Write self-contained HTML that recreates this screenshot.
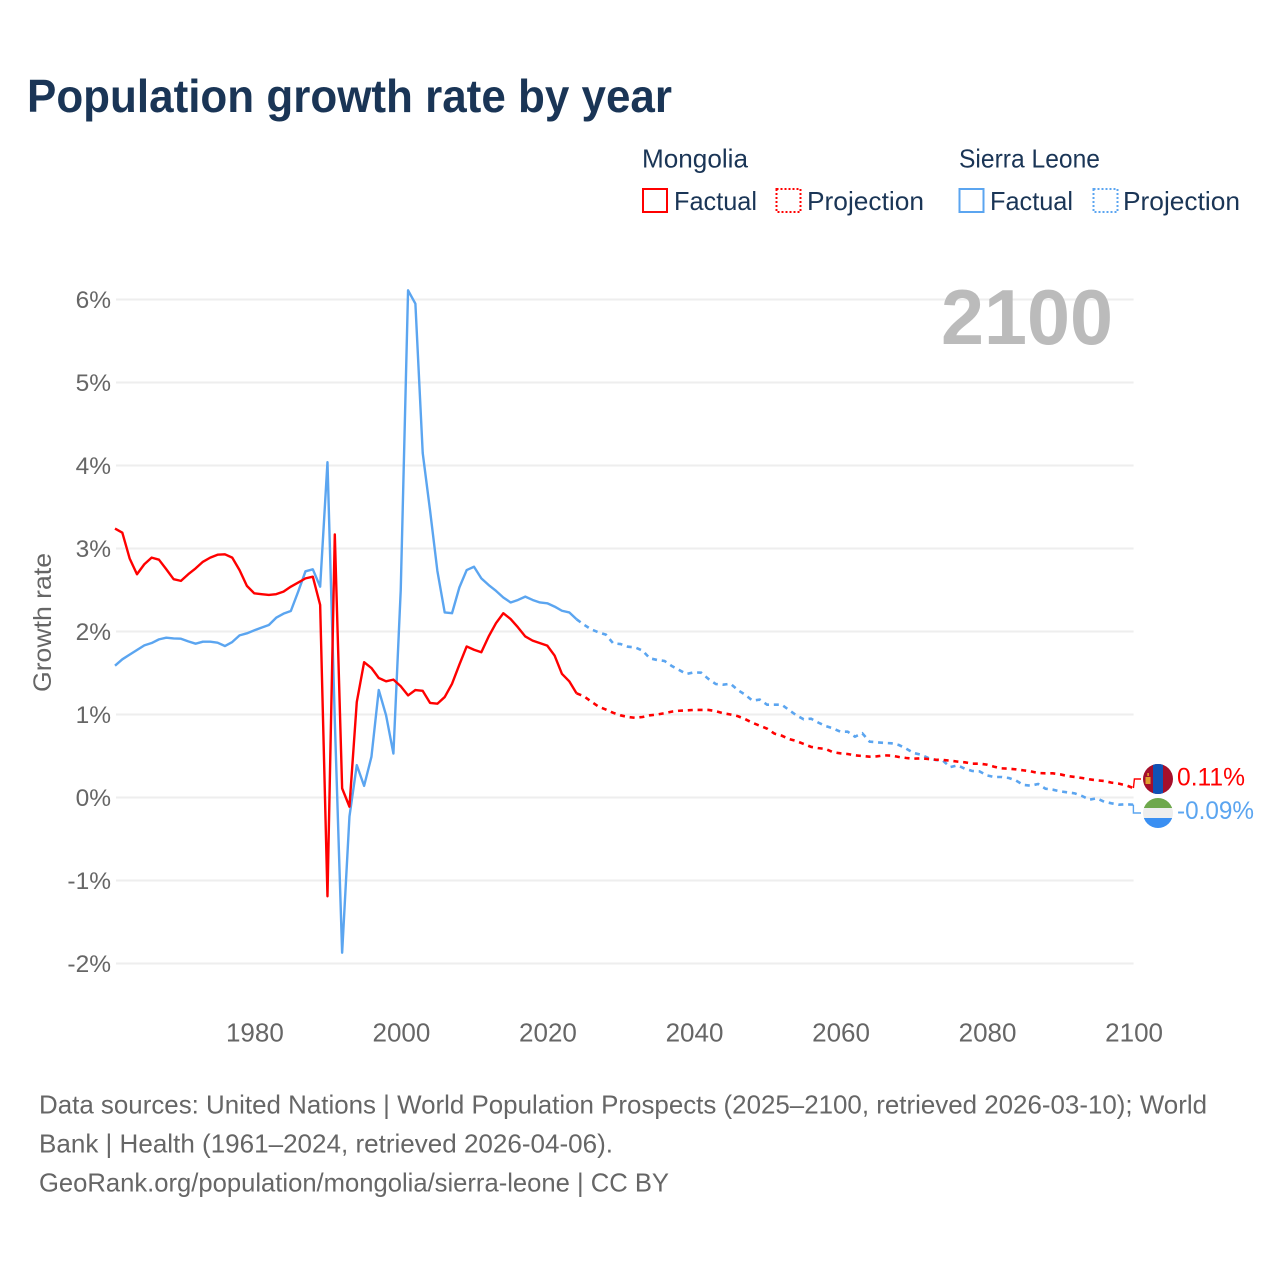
<!DOCTYPE html>
<html lang="en">
<head>
<meta charset="utf-8">
<title>Population growth rate by year</title>
<style>
html,body{margin:0;padding:0;background:#fff}
svg{display:block}
text{font-family:"Liberation Sans",sans-serif}
</style>
</head>
<body>
<svg id="chart" xmlns="http://www.w3.org/2000/svg" width="1280" height="1280" viewBox="0 0 1280 1280">
  <rect width="1280" height="1280" fill="#fff"/>
  <text x="27" y="112" font-size="46" font-weight="700" fill="#1a3556" textLength="645" lengthAdjust="spacingAndGlyphs">Population growth rate by year</text>

  <g font-size="26" fill="#1a3556">
    <text x="642" y="167.5" textLength="106" lengthAdjust="spacingAndGlyphs">Mongolia</text>
    <text x="959" y="167.5" textLength="141" lengthAdjust="spacingAndGlyphs">Sierra Leone</text>
    <rect x="643" y="189" width="24" height="23" fill="none" stroke="#ff0000" stroke-width="2"/>
    <text x="674" y="210" textLength="83" lengthAdjust="spacingAndGlyphs">Factual</text>
    <rect x="776.5" y="189" width="24" height="23" fill="none" stroke="#ff0000" stroke-width="2" stroke-dasharray="2 2"/>
    <text x="807" y="210" textLength="117" lengthAdjust="spacingAndGlyphs">Projection</text>
    <rect x="959.5" y="189" width="24" height="23" fill="none" stroke="#5ba5f0" stroke-width="2"/>
    <text x="990" y="210" textLength="83" lengthAdjust="spacingAndGlyphs">Factual</text>
    <rect x="1093.5" y="189" width="24" height="23" fill="none" stroke="#5ba5f0" stroke-width="2" stroke-dasharray="2 2"/>
    <text x="1123" y="210" textLength="117" lengthAdjust="spacingAndGlyphs">Projection</text>
  </g>

  <g id="grid"></g>
  <g id="yticks"></g>
  <g id="xticks"></g>

  <text transform="translate(51,692) rotate(-90)" font-size="25" fill="#666" textLength="139" lengthAdjust="spacingAndGlyphs">Growth rate</text>
  <text x="941" y="344" font-size="78" font-weight="700" fill="#bbbbbb" textLength="172" lengthAdjust="spacingAndGlyphs">2100</text>

  <g id="series"></g>

  <defs>
    <clipPath id="flag-clip-mn"><circle cx="1158" cy="779" r="15"/></clipPath>
    <clipPath id="flag-clip-sl"><circle cx="1158" cy="813" r="15"/></clipPath>
  </defs>
  <g clip-path="url(#flag-clip-mn)">
    <rect x="1143" y="764" width="30" height="30" fill="#a50f2b"/>
    <rect x="1153" y="764" width="10" height="30" fill="#0f52b5"/>
    <rect x="1145.5" y="777" width="5" height="7" fill="#e0a030"/>
    <rect x="1147.3" y="773" width="1.6" height="3" fill="#e0a030"/>
  </g>
  <g clip-path="url(#flag-clip-sl)">
    <rect x="1143" y="798" width="30" height="10" fill="#6ea84c"/>
    <rect x="1143" y="808" width="30" height="10" fill="#eeeeee"/>
    <rect x="1143" y="818" width="30" height="10" fill="#3a8ff2"/>
  </g>

  <text id="label-mn" x="1177" y="785.5" font-size="25" fill="#ff0000" textLength="68" lengthAdjust="spacingAndGlyphs"></text>
  <text id="label-sl" x="1177" y="819" font-size="25" fill="#5ba5f0" textLength="77" lengthAdjust="spacingAndGlyphs"></text>

  <g font-size="26" fill="#666">
    <text x="39" y="1113.5" textLength="1168" lengthAdjust="spacingAndGlyphs">Data sources: United Nations | World Population Prospects (2025–2100, retrieved 2026-03-10); World</text>
    <text x="39" y="1152.5" textLength="574" lengthAdjust="spacingAndGlyphs">Bank | Health (1961–2024, retrieved 2026-04-06).</text>
    <text x="39" y="1191.5" textLength="630" lengthAdjust="spacingAndGlyphs">GeoRank.org/population/mongolia/sierra-leone | CC BY</text>
  </g>
</svg>
<script>
const xTickYears = [1980, 2000, 2020, 2040, 2060, 2080, 2100];
const yTickValues = [-2, -1, 0, 1, 2, 3, 4, 5, 6];
const factualStartYear = 1961;
const projectionStartYear = 2024;
const mongoliaFactual = [3.24,3.19,2.88,2.69,2.81,2.89,2.865,2.75,2.63,2.61,2.69,2.76,2.84,2.89,2.925,2.93,2.89,2.74,2.55,2.46,2.45,2.44,2.45,2.48,2.54,2.59,2.64,2.66,2.32,-1.19,3.17,0.11,-0.11,1.15,1.63,1.56,1.44,1.40,1.42,1.34,1.23,1.295,1.285,1.14,1.13,1.21,1.37,1.6,1.82,1.78,1.75,1.94,2.10,2.22,2.15,2.05,1.94,1.89,1.86,1.83,1.71,1.49,1.40,1.255];
const mongoliaProjection = [1.255,1.22,1.155,1.095,1.06,1.02,0.99,0.97,0.96,0.97,0.99,1.00,1.015,1.035,1.045,1.05,1.055,1.055,1.055,1.04,1.015,1.00,0.98,0.945,0.90,0.865,0.83,0.77,0.745,0.705,0.68,0.645,0.61,0.595,0.585,0.545,0.532,0.524,0.508,0.500,0.492,0.496,0.508,0.504,0.488,0.476,0.468,0.472,0.464,0.456,0.452,0.444,0.432,0.424,0.408,0.408,0.396,0.371,0.351,0.347,0.339,0.327,0.315,0.295,0.291,0.291,0.279,0.259,0.247,0.235,0.219,0.207,0.199,0.179,0.167,0.147,0.114];
const sierraLeoneFactual = [1.588,1.665,1.721,1.777,1.833,1.861,1.905,1.925,1.917,1.913,1.881,1.853,1.877,1.877,1.865,1.825,1.873,1.953,1.978,2.014,2.046,2.078,2.166,2.215,2.247,2.48,2.725,2.749,2.54,4.04,0.93,-1.87,-0.23,0.39,0.14,0.49,1.295,0.99,0.53,2.5,6.11,5.95,4.15,3.46,2.73,2.23,2.22,2.53,2.74,2.78,2.64,2.56,2.49,2.41,2.35,2.38,2.42,2.38,2.35,2.34,2.30,2.25,2.23,2.147];
const sierraLeoneProjection = [2.147,2.082,2.026,1.990,1.962,1.857,1.849,1.817,1.809,1.769,1.677,1.657,1.645,1.584,1.536,1.488,1.508,1.504,1.428,1.367,1.359,1.371,1.295,1.239,1.167,1.179,1.118,1.118,1.118,1.054,0.990,0.942,0.950,0.902,0.861,0.833,0.793,0.793,0.733,0.773,0.673,0.665,0.657,0.653,0.632,0.588,0.536,0.516,0.476,0.452,0.444,0.367,0.387,0.347,0.319,0.315,0.267,0.247,0.247,0.235,0.203,0.151,0.143,0.163,0.106,0.094,0.074,0.062,0.050,0.018,-0.026,-0.010,-0.050,-0.070,-0.086,-0.082,-0.086];
const mongoliaEndLabel = "0.11%";
const sierraLeoneEndLabel = "-0.09%";

const NS = "http://www.w3.org/2000/svg";
function xScale(year) { return 115 + (year - 1961) * (1133.4 - 115) / (2100 - 1961); }
function yScale(v) { return 797.5 - v * 83; }
function make(tag, attrs, parent) {
  const el = document.createElementNS(NS, tag);
  for (const k in attrs) el.setAttribute(k, attrs[k]);
  parent.appendChild(el);
  return el;
}
function linePath(values, startYear) {
  return values.map((v, i) => (i ? "L" : "M") + xScale(startYear + i).toFixed(2) + " " + yScale(v).toFixed(2)).join(" ");
}

const grid = document.getElementById("grid");
const yticks = document.getElementById("yticks");
const xticks = document.getElementById("xticks");
const series = document.getElementById("series");

yTickValues.forEach(v => {
  const line = make("line", {x1: 116, x2: 1133.6, y1: yScale(v), y2: yScale(v), stroke: "#eeeeee", "stroke-width": 2}, grid);
  
  
  const label = make("text", {x: 111, y: yScale(v) + 8.5, "text-anchor": "end", "font-size": 24.5, fill: "#666"}, yticks);
  
  
  label.textContent = v + "%";
});

xTickYears.forEach(year => {
  const label = make("text", {x: xScale(year) + 0.7, y: 1041.5, "text-anchor": "middle", "font-size": 26, fill: "#666"}, xticks);
  
  
  label.textContent = year;
});

const solidStyle = {fill: "none", "stroke-width": 2.4, "stroke-linejoin": "round"};
const dashStyle = {fill: "none", "stroke-width": 2.6, "stroke-dasharray": "5 4.8"};

const slFactualLine = make("path", Object.assign({d: linePath(sierraLeoneFactual, factualStartYear), stroke: "#5ba5f0"}, solidStyle), series);


const slProjectionLine = make("path", Object.assign({d: linePath(sierraLeoneProjection, projectionStartYear), stroke: "#5ba5f0"}, dashStyle), series);


const mnFactualLine = make("path", Object.assign({d: linePath(mongoliaFactual, factualStartYear), stroke: "#ff0000"}, solidStyle), series);


const mnProjectionLine = make("path", Object.assign({d: linePath(mongoliaProjection, projectionStartYear), stroke: "#ff0000"}, dashStyle), series);



const endX = xScale(2100);
const mnLeader = make("path", {d: "M" + endX + " " + yScale(mongoliaProjection[mongoliaProjection.length - 1]) + " L" + (endX + 1) + " 779 L1141 779", fill: "none", stroke: "#ff0000", "stroke-width": 1.4}, series);


const slLeader = make("path", {d: "M" + endX + " " + yScale(sierraLeoneProjection[sierraLeoneProjection.length - 1]) + " L" + endX + " 813 L1141 813", fill: "none", stroke: "#5ba5f0", "stroke-width": 1.4}, series);



document.getElementById("label-mn").textContent = mongoliaEndLabel;
document.getElementById("label-sl").textContent = sierraLeoneEndLabel;
</script>
</body>
</html>
